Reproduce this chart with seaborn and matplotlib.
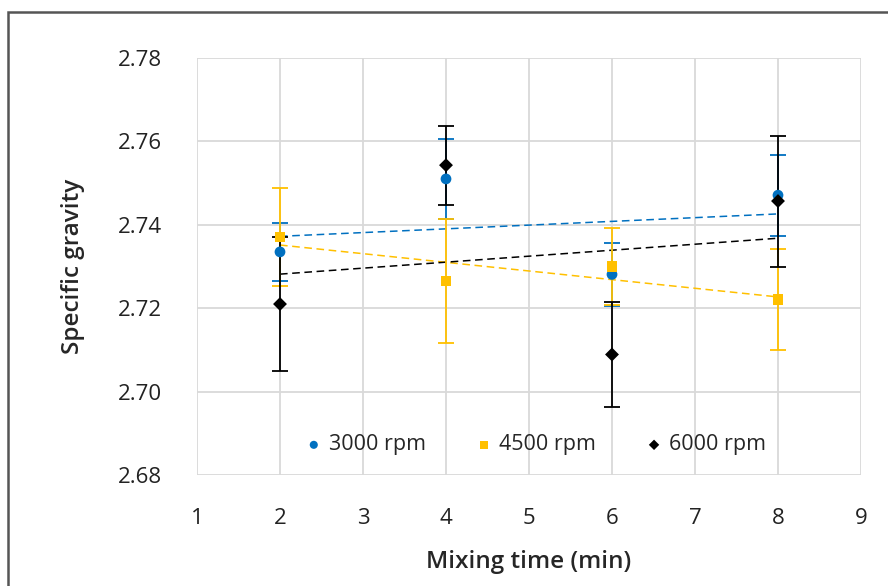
import numpy as np
import pandas as pd
import seaborn as sns
import matplotlib.pyplot as plt
from matplotlib.patches import Rectangle

# mixing time (min)
mix_time = [2, 4, 6, 8]

# specific gravity and error for each speed
sg_3000 = [2.7335, 2.7510, 2.7281, 2.7471]
err_3000 = [0.0070, 0.0095, 0.0076, 0.0097]
sg_4500 = [2.7371, 2.7265, 2.7300, 2.7221]
err_4500 = [0.0118, 0.0148, 0.0092, 0.0121]
sg_6000 = [2.7210, 2.7543, 2.7089, 2.7457]
err_6000 = [0.0161, 0.0095, 0.0127, 0.0157]

labels = ['3000 rpm', '4500 rpm', '6000 rpm']
colors = ['#0070C0', '#FFC000', '#000000']
markers = ['o', 's', 'D']
sizes = [60, 60, 50]

sns.set_theme(style="white")
plt.rcParams['font.family'] = ['Open Sans', 'DejaVu Sans']

fig = plt.figure(figsize=(8.88, 5.86), dpi=100)
ax = fig.add_axes([197/888, 1-475/586, (861-197)/888, (475-58)/586])

series = [(sg_3000, err_3000), (sg_4500, err_4500), (sg_6000, err_6000)]
for (vals, errs), lab, col, mk, sz in zip(series, labels, colors, markers, sizes):
    df = pd.DataFrame({'time': mix_time, 'sg': vals})
    ax.errorbar(mix_time, vals, yerr=errs, fmt='none', ecolor=col,
                elinewidth=1.3, capsize=6, capthick=1.3, zorder=3)
    sns.regplot(x='time', y='sg', data=df, ax=ax, scatter=False, ci=None,
                truncate=True, color=col,
                line_kws={'ls': (0, (5, 3)), 'lw': 1.1, 'zorder': 2})
    sns.scatterplot(x='time', y='sg', data=df, ax=ax, color=col, marker=mk,
                    s=sz, edgecolor='none', label=lab, zorder=4)

ax.set_xlim(1, 9)
ax.set_ylim(2.68, 2.78)
ax.set_xticks(range(1, 10))
ax.set_yticks(np.arange(2.68, 2.781, 0.02))
ax.set_yticklabels([f'{v:.2f}' for v in np.arange(2.68, 2.781, 0.02)])
ax.grid(True, color='#d9d9d9', lw=1.3)
for s in ax.spines.values():
    s.set_visible(False)
ax.tick_params(axis='both', labelsize=16, colors='#222222', length=0)
ax.tick_params(axis='x', pad=24)
ax.tick_params(axis='y', pad=25)

ax.set_xlabel('Mixing time (min)', fontsize=17.5, weight='semibold', labelpad=15)
ax.set_ylabel('Specific gravity', fontsize=17.5, weight='semibold', labelpad=24)

ax.legend(loc='center', bbox_to_anchor=(0.51, 0.072), ncol=3, frameon=False,
          fontsize=15.5, handlelength=0.8, handletextpad=0.3,
          columnspacing=2.3, markerscale=0.75)

# chart area border
fig.patches.append(Rectangle((8/888, -0.1), 1.0, 1-12/586+0.1,
                             transform=fig.transFigure, fill=False,
                             edgecolor='#555555', lw=1.8))

fig.savefig('out.png', dpi=100)
